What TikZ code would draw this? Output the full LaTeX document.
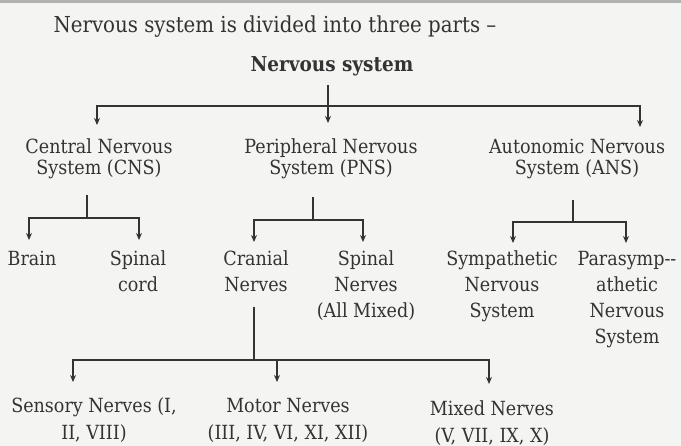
\documentclass[tikz,border=0pt]{standalone}
\usepackage{fontspec}
\setmainfont{DejaVu Serif Condensed}
\usetikzlibrary{arrows.meta}
\definecolor{ink}{HTML}{333333}
\definecolor{paper}{HTML}{F4F4F2}
\begin{document}
\begin{tikzpicture}[x=1pt,y=-1pt,
  txt/.style={inner sep=0pt, outer sep=0pt, text=ink, align=center, font=\fontsize{19.5}{21}\selectfont},
  midtxt/.style={txt, font=\fontsize{19.5}{26}\selectfont},
  lowtxt/.style={txt, font=\fontsize{19.5}{27}\selectfont},
  link/.style={draw=ink, line width=1.4pt, line join=miter},
  arr/.style={link, -{Stealth[length=7pt,width=6pt]}}]
\fill[paper] (0,0) rectangle (681,446);
\fill[gray!60] (0,0) rectangle (681,3);
\useasboundingbox (0,0) rectangle (681,446);

% texts
\node[txt, anchor=base, font=\fontsize{22}{24}\selectfont] (title) at (275,33) {Nervous system is divided into three parts –};
\node[txt, anchor=base, font=\fontsize{20.5}{22}\selectfont\bfseries] (root) at (332,72) {Nervous system};

\node[txt, anchor=north] (cns) at (99,139) {Central Nervous\\System (CNS)};
\node[txt, anchor=north] (pns) at (331,139) {Peripheral Nervous\\System (PNS)};
\node[txt, anchor=north] (ans) at (577,139) {Autonomic Nervous\\System (ANS)};

\node[midtxt, anchor=base] (brain) at (32,266) {Brain};
\node[midtxt, anchor=north] (spcord) at (138,251) {Spinal\\cord};
\node[midtxt, anchor=north] (cranial) at (256,251) {Cranial\\Nerves};
\node[midtxt, anchor=north] (spnerves) at (366,251) {Spinal\\Nerves\\(All Mixed)};
\node[midtxt, anchor=north] (symp) at (502,251) {Sympathetic\\Nervous\\System};
\node[midtxt, anchor=north] (para) at (627,251) {Parasymp{-}{-}\\athetic\\Nervous\\System};

\node[lowtxt, anchor=north] (sensory) at (94,398) {Sensory Nerves (I,\\II, VIII)};
\node[lowtxt, anchor=north] (motor) at (288,398) {Motor Nerves\\(III, IV, VI, XI, XII)};
\node[lowtxt, anchor=north] (mixed) at (492,401) {Mixed Nerves\\(V, VII, IX, X)};

% connector points
\coordinate (rs) at (328,85);
\coordinate (rt) at (328,123);
\coordinate (rj) at (328,106);
\coordinate (tcns) at (97,125);
\coordinate (tans) at (640,127);

\coordinate (cs) at (87,195);
\coordinate (cj) at (87,218);
\coordinate (tbrain) at (29,240);
\coordinate (tspcord) at (139,240);

\coordinate (ps) at (313,197);
\coordinate (pj) at (313,220);
\coordinate (tcran) at (254,242);
\coordinate (tspn) at (363,242);

\coordinate (as) at (573,200);
\coordinate (aj) at (573,222);
\coordinate (tsymp) at (513,243);
\coordinate (tpara) at (626,243);

\coordinate (ks) at (254,307);
\coordinate (kj) at (254,360);
\coordinate (tsens) at (73,382);
\coordinate (tmot) at (277,382);
\coordinate (tmix) at (489,384);

% connectors
\draw[arr] (rs) -- (rt);
\draw[arr] (rj) -| (tcns);
\draw[arr] (rj) -| (tans);

\draw[link] (cs) -- (cj);
\draw[arr] (cj) -| (tbrain);
\draw[arr] (cj) -| (tspcord);

\draw[link] (ps) -- (pj);
\draw[arr] (pj) -| (tcran);
\draw[arr] (pj) -| (tspn);

\draw[link] (as) -- (aj);
\draw[arr] (aj) -| (tsymp);
\draw[arr] (aj) -| (tpara);

\draw[link] (ks) -- (kj);
\draw[arr] (kj) -| (tsens);
\draw[arr] (kj) -| (tmot);
\draw[arr] (kj) -| (tmix);
\end{tikzpicture}
\end{document}
